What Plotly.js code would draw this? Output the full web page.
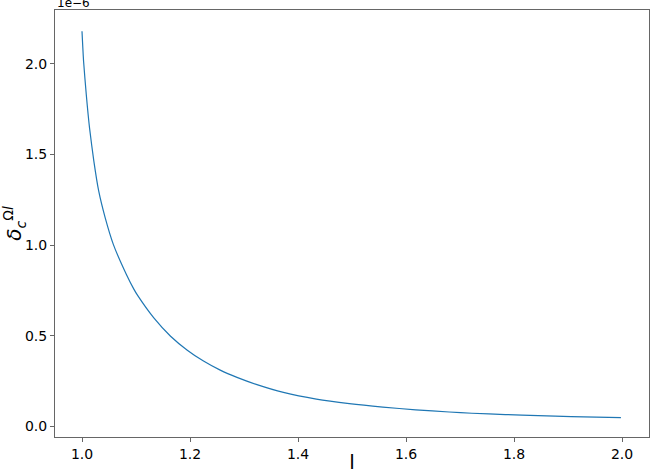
<!DOCTYPE html>
<html>
<head>
<meta charset="utf-8">
<script src="https://cdn.plot.ly/plotly-3.0.1.min.js"></script>
<style>
  html, body { margin: 0; padding: 0; background: #fff; }
  #chart { width: 650px; height: 474px; }
</style>
</head>
<body>
<div id="chart"></div>
<script>
// l values (x)
const lValues = [1.000, 1.003, 1.008, 1.014, 1.022, 1.031, 1.043, 1.058, 1.082, 1.096,
                 1.103, 1.133, 1.164, 1.195, 1.225, 1.256, 1.287, 1.324, 1.373, 1.434,
                 1.495, 1.557, 1.618, 1.680, 1.722, 1.784, 1.845, 1.906, 1.998];
// delta_c values in units of 1e-6 (offset text "1e-6" on the axis)
const deltaValues = [2.180, 2.011, 1.828, 1.645, 1.462, 1.297, 1.150, 1.004, 0.839, 0.757,
                     0.722, 0.598, 0.497, 0.420, 0.360, 0.310, 0.270, 0.230, 0.187, 0.150,
                     0.125, 0.106, 0.091, 0.079, 0.072, 0.065, 0.059, 0.053, 0.048];
const xTickVals = [1.0, 1.2, 1.4, 1.6, 1.8, 2.0];
const yTickVals = [0.0, 0.5, 1.0, 1.5, 2.0];
const offsetText = "1e\u22126";

const trace = {
  x: lValues,
  y: deltaValues,
  type: "scatter",
  mode: "lines",
  line: { color: "#1f77b4", width: 1.2, shape: "spline", smoothing: 0.6 },
  hoverinfo: "x+y"
};

const axisCommon = {
  showgrid: false,
  zeroline: false,
  showline: true,
  mirror: true,
  linecolor: "#666666",
  linewidth: 1,
  ticks: "outside",
  ticklen: 4,
  tickwidth: 1,
  tickcolor: "#666666",
  tickfont: { family: "DejaVu Sans", size: 14, color: "#000" }
};

const layout = {
  width: 650,
  height: 474,
  margin: { l: 55, r: 1, t: 10, b: 37 },
  paper_bgcolor: "#fff",
  plot_bgcolor: "#fff",
  showlegend: false,
  xaxis: Object.assign({}, axisCommon, {
    range: [0.95, 2.05],
    tickvals: xTickVals,
    tickformat: ".1f",
    title: { text: "l", font: { family: "DejaVu Sans", size: 20, color: "#000" }, standoff: 11 }
  }),
  yaxis: Object.assign({}, axisCommon, {
    range: [-0.059, 2.297],
    tickvals: yTickVals,
    tickformat: ".1f",
    title: {
      text: "<i>δ</i><sub><i>c</i></sub><sup>Ω<i>l</i></sup>",
      font: { family: "DejaVu Sans", size: 20, color: "#000" },
      standoff: 13
    }
  }),
  annotations: [{
    text: offsetText,
    xref: "paper", yref: "paper",
    x: 0, y: 1,
    xanchor: "left", yanchor: "bottom",
    showarrow: false,
    font: { family: "DejaVu Sans", size: 12, color: "#000" },
    yshift: -2
  }]
};

Plotly.newPlot("chart", [trace], layout, { displayModeBar: false, staticPlot: true });
</script>
</body>
</html>
